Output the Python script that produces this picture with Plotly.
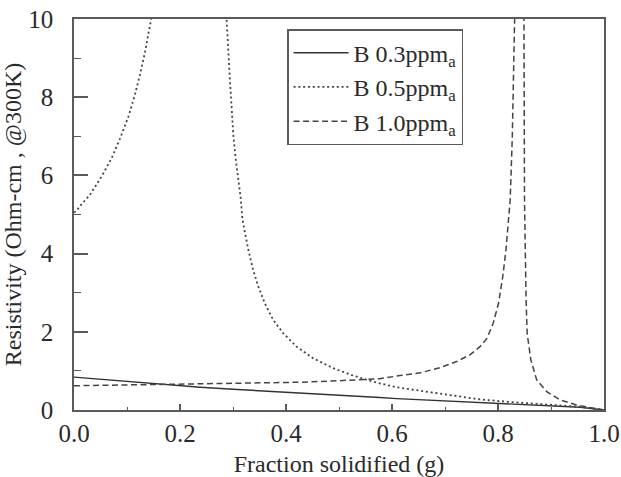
import plotly.graph_objects as go

# B 0.3 ppma (solid)
x_03 = [0.0, 0.1, 0.2, 0.238, 0.3, 0.4, 0.426, 0.5, 0.577, 0.609, 0.703, 0.8, 0.829, 0.9, 0.955, 1.0]
y_03 = [0.84, 0.73, 0.63, 0.58, 0.53, 0.46, 0.44, 0.38, 0.32, 0.29, 0.23, 0.17, 0.15, 0.10, 0.07, 0.0]

# B 0.5 ppma (dotted) - two branches separated by a gap (None)
x_05 = [0.0, 0.006, 0.010, 0.030, 0.052, 0.071, 0.087, 0.1025, 0.113, 0.1245, 0.134, 0.140, 0.145, 0.147,
        None,
        0.2875, 0.288, 0.291, 0.294, 0.2975, 0.3006, 0.305, 0.310, 0.3145, 0.318, 0.3226, 0.329, 0.338,
        0.348, 0.360, 0.376, 0.395, 0.420, 0.4515, 0.489, 0.527, 0.565, 0.609, 0.64, 0.703, 0.766,
        0.829, 0.892, 0.955, 1.0]
y_05 = [5.05, 5.11, 5.20, 5.50, 5.97, 6.44, 6.95, 7.50, 7.97, 8.57, 9.16, 9.59, 9.92, 10.1,
        None,
        10.1, 9.95, 9.25, 8.48, 7.72, 7.03, 6.44, 5.93, 5.42, 4.86, 4.52, 4.09, 3.58,
        3.15, 2.73, 2.30, 1.96, 1.62, 1.32, 1.07, 0.88, 0.72, 0.58, 0.52, 0.38, 0.27,
        0.20, 0.14, 0.08, 0.0]

# B 1.0 ppma (dashed)
x_10 = [0.0, 0.1, 0.2, 0.238, 0.3, 0.4, 0.426, 0.5, 0.54, 0.577, 0.615, 0.653, 0.69, 0.722, 0.747,
        0.766, 0.779, 0.791, 0.801, 0.809, 0.815, 0.819, 0.823, 0.827, 0.831, 0.8315,
        None,
        0.8488, 0.849, 0.850, 0.851, 0.853, 0.855, 0.862, 0.873, 0.892, 0.917, 0.948, 0.975, 1.0]
y_10 = [0.62, 0.64, 0.65, 0.66, 0.67, 0.70, 0.71, 0.75, 0.77, 0.80, 0.88, 0.95, 1.08, 1.24, 1.41,
        1.62, 1.83, 2.22, 2.73, 3.41, 4.09, 4.69, 5.37, 7.0, 9.9, 10.1,
        None,
        10.1, 9.9, 5.37, 4.09, 2.81, 1.96, 1.28, 0.77, 0.47, 0.26, 0.13, 0.06, 0.0]

x_ticks = [0.0, 0.2, 0.4, 0.6, 0.8, 1.0]
y_ticks = [0, 2, 4, 6, 8, 10]

names = ["B 0.3ppm<sub>a</sub>", "B 0.5ppm<sub>a</sub>", "B 1.0ppm<sub>a</sub>"]

FONT = "Liberation Serif, Times New Roman, serif"
ink = "#2a2a2a"
frame = "#5a5a5a"

fig = go.Figure()
fig.add_trace(go.Scatter(x=x_03, y=y_03, mode="lines", name=names[0],
                         line=dict(color="#333", width=1.4, dash="solid")))
fig.add_trace(go.Scatter(x=x_05, y=y_05, mode="lines", name=names[1],
                         line=dict(color="#444", width=1.8, dash="2px,2.8px")))
fig.add_trace(go.Scatter(x=x_10, y=y_10, mode="lines", name=names[2],
                         line=dict(color="#444", width=1.5, dash="6px,3.5px")))

axis_common = dict(showline=True, linecolor=frame, linewidth=1.5, mirror=True,
                   showgrid=False, zeroline=False, ticks="inside", tickcolor=frame,
                   tickwidth=1.5, automargin=False, ticklabeloverflow="allow",
                   tickfont=dict(family=FONT, size=25, color=ink))

fig.update_xaxes(range=[0, 1], tickvals=x_ticks, tickformat=".1f", ticklen=6,
                 minor=dict(ticks="inside", dtick=0.1, ticklen=3, tickcolor=frame, tickwidth=1.2),
                 title=dict(text="Fraction solidified (g)", font=dict(family=FONT, size=24, color=ink), standoff=10),
                 **axis_common)
fig.update_yaxes(range=[0, 10], tickvals=y_ticks, ticklen=14, ticklabelstandoff=14,
                 minor=dict(ticks="inside", dtick=1, ticklen=7, tickcolor=frame, tickwidth=1.2),
                 title=dict(text="Resistivity (Ohm-cm , @300K)", font=dict(family=FONT, size=24, color=ink), standoff=4),
                 **axis_common)

fig.update_layout(
    width=621, height=477,
    margin=dict(l=74, r=17, t=19, b=67),
    paper_bgcolor="white", plot_bgcolor="white",
    font=dict(family=FONT, color=ink),
    showlegend=True,
    legend=dict(x=0.402, y=0.974, xanchor="left", yanchor="top",
                bgcolor="white", bordercolor=frame, borderwidth=1.5,
                font=dict(family=FONT, size=24, color=ink),
                itemwidth=55, tracegroupgap=0),
)

# remove the browser's default 8px page margin so the figure sits at the window origin
fig.write_html("out.html", config={"displayModeBar": False},
               post_script="document.body.style.margin='0';document.body.style.overflow='hidden';")
